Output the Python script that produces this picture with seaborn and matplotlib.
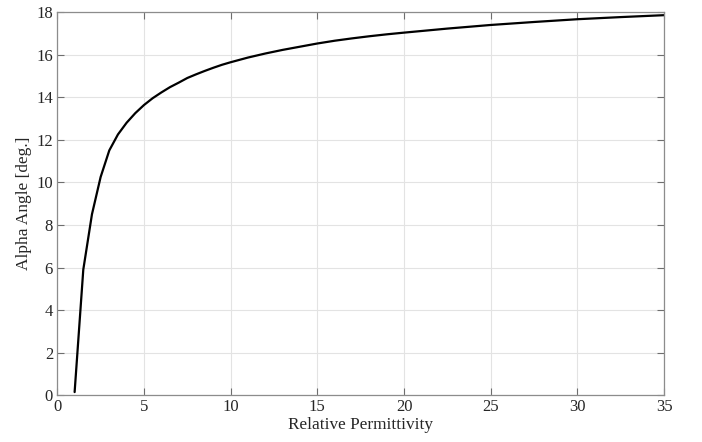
import matplotlib
matplotlib.use("Agg")
import matplotlib.pyplot as plt
import seaborn as sns
import pandas as pd

permittivity = [1.0, 1.5, 2.0, 2.5, 3.0, 3.5, 4.0, 4.5, 5.0, 5.5, 6.0, 6.5, 7.0, 7.5,
                8.0, 8.5, 9.0, 9.5, 10.0, 11.0, 12.0, 13.0, 14.0, 15.0, 16.0, 17.0,
                18.0, 19.0, 20.0, 22.5, 25.0, 27.5, 30.0, 32.5, 35.0]
alpha_deg = [0.15, 5.9, 8.5, 10.25, 11.5, 12.25, 12.8, 13.25, 13.63, 13.95, 14.22, 14.47,
             14.68, 14.9, 15.07, 15.23, 15.38, 15.52, 15.64, 15.86, 16.05, 16.22, 16.37,
             16.52, 16.65, 16.76, 16.86, 16.95, 17.03, 17.22, 17.39, 17.53, 17.66,
             17.76, 17.85]

x_ticks = [0, 5, 10, 15, 20, 25, 30, 35]
y_ticks = [0, 2, 4, 6, 8, 10, 12, 14, 16, 18]

df = pd.DataFrame({"Relative Permittivity": permittivity, "Alpha Angle [deg.]": alpha_deg})

sns.set_style("whitegrid")
plt.rcParams['font.family'] = ['Liberation Serif', 'DejaVu Serif']

fig = plt.figure(figsize=(7.02, 4.42), dpi=100)
ax = fig.add_axes([0.0816, 0.1057, 0.8644, 0.8672])

sns.lineplot(data=df, x="Relative Permittivity", y="Alpha Angle [deg.]", ax=ax,
             color="black", linewidth=1.6, sort=False)

ax.set_xlim(0, 35)
ax.set_ylim(0, 18)
ax.set_xticks(x_ticks)
ax.set_yticks(y_ticks)
ax.grid(True, color="#e3e3e3", linewidth=0.8)
for s in ax.spines.values():
    s.set_color("#8c8c8c")
    s.set_linewidth(0.9)
ax.tick_params(direction="in", length=5, width=0.8, color="#6e6e6e",
               top=True, right=True, bottom=True, left=True,
               labelsize=12, labelcolor="#262626", pad=3)
ax.set_xlabel("Relative Permittivity", fontsize=12.4, color="#262626", labelpad=1)
ax.set_ylabel("Alpha Angle [deg.]", fontsize=12.4, color="#262626", labelpad=3)

fig.savefig("out.png", dpi=100, facecolor="white")
